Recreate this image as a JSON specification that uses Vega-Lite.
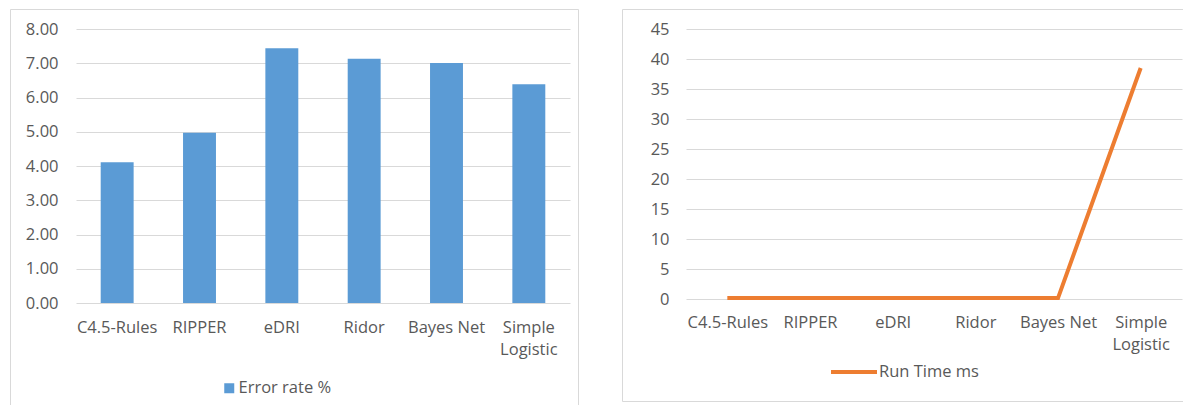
{
  "$schema": "https://vega.github.io/schema/vega-lite/v6.json",
  "padding": {"left": 9, "top": 8, "right": 0, "bottom": 0},
  "background": "white",
  "spacing": 42,
  "resolve": {
    "scale": {"color": "independent", "x": "independent", "y": "independent"},
    "legend": {"color": "independent"}
  },
  "config": {
    "view": {"stroke": "#d9d9d9", "strokeWidth": 1},
    "axis": {
      "labelFont": "Open Sans",
      "labelFontSize": 16.5,
      "labelColor": "#595959",
      "gridColor": "#d9d9d9",
      "gridWidth": 1,
      "domain": false,
      "ticks": false,
      "title": null
    },
    "legend": {
      "labelFont": "Open Sans",
      "labelFontSize": 16.5,
      "labelColor": "#595959",
      "padding": 0,
      "title": null
    }
  },
  "datasets": {
    "results": [
      {"classifier": "C4.5-Rules", "error_rate": 4.11, "run_time_ms": 0.15},
      {"classifier": "RIPPER", "error_rate": 4.97, "run_time_ms": 0.15},
      {"classifier": "eDRI", "error_rate": 7.44, "run_time_ms": 0.15},
      {"classifier": "Ridor", "error_rate": 7.13, "run_time_ms": 0.15},
      {"classifier": "Bayes Net", "error_rate": 7.01, "run_time_ms": 0.15},
      {"classifier": "Simple Logistic", "error_rate": 6.39, "run_time_ms": 38.5}
    ]
  },
  "hconcat": [
    {
      "width": 568,
      "height": 397,
      "data": {"name": "results"},
      "mark": {"type": "bar"},
      "encoding": {
        "x": {
          "field": "classifier",
          "type": "nominal",
          "sort": null,
          "scale": {"range": [66, 560], "paddingInner": 0.6, "paddingOuter": 0.3},
          "axis": {
            "labelAngle": 0,
            "offset": -103,
            "labelPadding": 16,
            "grid": false,
            "labelLimit": 0,
            "labelLineHeight": 22,
            "labelExpr": "datum.label == 'Simple Logistic' ? ['Simple', 'Logistic'] : datum.label"
          }
        },
        "y": {
          "field": "error_rate",
          "type": "quantitative",
          "scale": {"domain": [0, 8], "range": [294, 20], "nice": false, "zero": true},
          "axis": {
            "values": [0, 1, 2, 3, 4, 5, 6, 7, 8],
            "format": ".2f",
            "offset": -48,
            "labelPadding": 0
          }
        },
        "color": {
          "datum": "Error rate %",
          "type": "nominal",
          "scale": {"range": ["#5B9BD5"]},
          "legend": {
            "orient": "none",
            "legendX": 211,
            "legendY": 371,
            "symbolType": "square",
            "symbolSize": 100,
            "symbolStrokeWidth": 0,
            "labelOffset": 1
          }
        }
      }
    },
    {
      "width": 563,
      "height": 392,
      "data": {"name": "results"},
      "mark": {"type": "line", "strokeWidth": 4},
      "encoding": {
        "x": {
          "field": "classifier",
          "type": "nominal",
          "sort": null,
          "scale": {"type": "point", "range": [64, 560], "padding": 0.5},
          "axis": {
            "labelAngle": 0,
            "offset": -102,
            "labelPadding": 15,
            "grid": false,
            "labelLimit": 0,
            "labelLineHeight": 22,
            "labelExpr": "datum.label == 'Simple Logistic' ? ['Simple', 'Logistic'] : datum.label"
          }
        },
        "y": {
          "field": "run_time_ms",
          "type": "quantitative",
          "scale": {"domain": [0, 45], "range": [290, 20], "nice": false},
          "axis": {
            "values": [0, 5, 10, 15, 20, 25, 30, 35, 40, 45],
            "format": "d",
            "offset": -47,
            "labelPadding": 0
          }
        },
        "color": {
          "datum": "Run Time ms",
          "type": "nominal",
          "scale": {"range": ["#ED7D31"]},
          "legend": {
            "orient": "none",
            "legendX": 207,
            "legendY": 338,
            "symbolType": "stroke",
            "symbolSize": 2116,
            "symbolStrokeWidth": 4,
            "labelOffset": 0
          }
        }
      }
    }
  ]
}
